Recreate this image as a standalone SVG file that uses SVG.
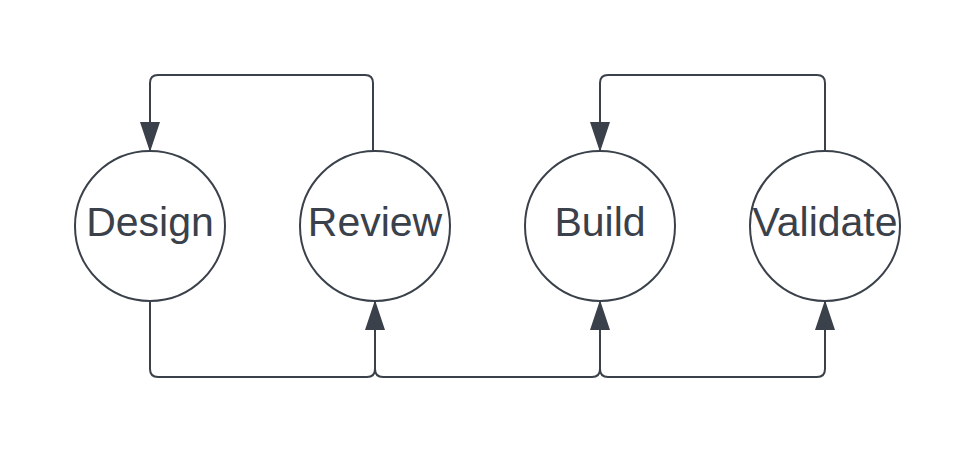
<svg xmlns="http://www.w3.org/2000/svg" width="975" height="452" viewBox="0 0 975 452">
<style>
.node circle{fill:#fff;stroke:#3a414a;stroke-width:2}
.node text{font-family:"Liberation Sans",Arial,sans-serif;font-size:41px;fill:#3a414a;text-anchor:middle}
.edge{fill:none;stroke:#3a414a;stroke-width:2;marker-end:url(#arr)}
</style>
<defs>
<marker id="arr" markerUnits="userSpaceOnUse" viewBox="0 0 30 20" markerWidth="30" markerHeight="20" refX="29" refY="10" orient="auto">
<path d="M0,0 L30,10 L0,20 Z" fill="#3a414a"/>
</marker>
</defs>
<rect width="975" height="452" fill="#fff"/>
<g id="connectors">
<path class="edge" d="M373,151 V83 Q373,75 365,75 H158 Q150,75 150,83 V151"/>
<path class="edge" d="M825,151 V83 Q825,75 817,75 H608 Q600,75 600,83 V151"/>
<path class="edge" d="M150,301 V369 Q150,377 158,377 H367 Q375,377 375,369 V301"/>
<path class="edge" d="M375,369 Q375,377 383,377 H592 Q600,377 600,369 V301"/>
<path class="edge" d="M600,369 Q600,377 608,377 H817 Q825,377 825,369 V301"/>
</g>
<g id="design" class="node"><circle cx="150" cy="226" r="75"/><text x="150" y="236">Design</text></g>
<g id="review" class="node"><circle cx="375" cy="226" r="75"/><text x="375" y="236">Review</text></g>
<g id="build" class="node"><circle cx="600" cy="226" r="75"/><text x="600" y="236">Build</text></g>
<g id="validate" class="node"><circle cx="825" cy="226" r="75"/><text x="825" y="236">Validate</text></g>
</svg>
